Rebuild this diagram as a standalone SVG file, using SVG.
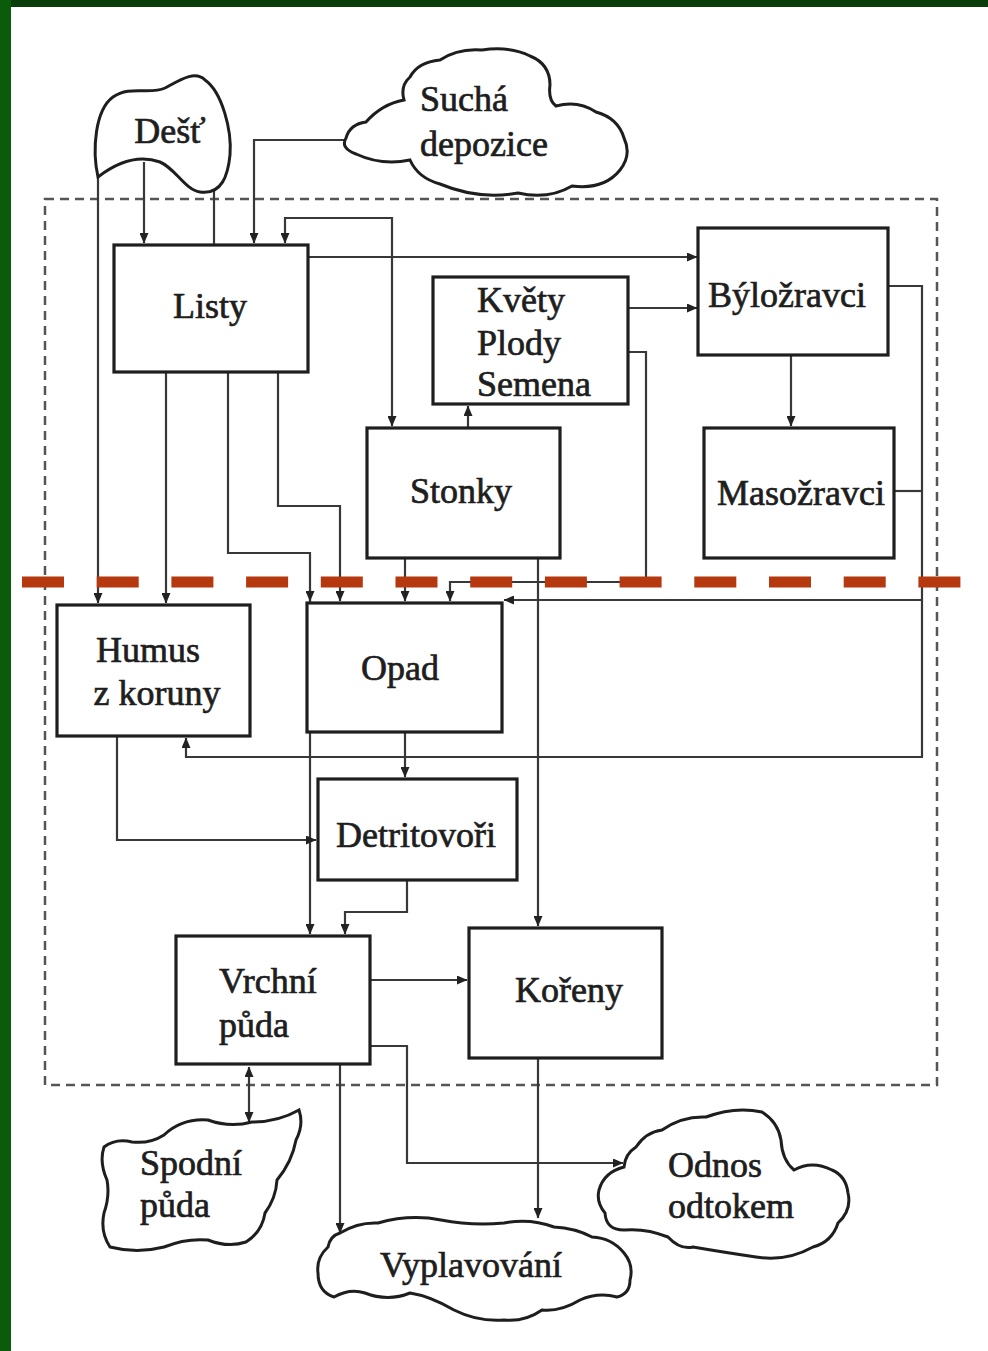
<svg xmlns="http://www.w3.org/2000/svg" width="988" height="1351" viewBox="0 0 988 1351">
<style>
.box{fill:#fff;stroke:#1e1e1e;stroke-width:3.2}
.cloud{fill:#fff;stroke:#1e1e1e;stroke-width:3}
.t{font-family:"Liberation Serif","Times New Roman",serif;font-size:36px;fill:#1e1e1e;stroke:#1e1e1e;stroke-width:0.7}
.c{text-anchor:middle}
.ln{fill:none;stroke:#383838;stroke-width:2.2}
.ln2{fill:none;stroke:#383838;stroke-width:2.2;marker-end:url(#arr)}
</style>
<defs>
<marker id="arr" markerUnits="userSpaceOnUse" markerWidth="11" markerHeight="9" refX="10" refY="4.5" orient="auto-start-reverse" viewBox="0 0 11 9">
<path d="M0,0 L10.5,4.5 L0,9 z" fill="#222"/>
</marker>
</defs>
<rect x="0" y="0" width="988" height="1351" fill="#fff"/>
<rect x="0" y="0" width="988" height="7" fill="#0b3d0b"/>
<rect x="0" y="0" width="11" height="1351" fill="#0a5c0a"/>
<rect id="boundary" x="45" y="199" width="892" height="886" fill="none" stroke="#555" stroke-width="2.5" stroke-dasharray="9 6"/>

<g id="connectors">
<path class="ln2" d="M98,177 V603"/>
<path class="ln2" d="M144,162 V243"/>
<path class="ln" d="M214,186 V245"/>
<path class="ln2" d="M345,140 H254 V243"/>
<path class="ln2" d="M285,243 V218 H392 V426" marker-start="url(#arr)"/>
<path class="ln2" d="M309,257 H697"/>
<path class="ln2" d="M629,308 H697"/>
<path class="ln2" d="M629,352 H646 V582 H450 V601"/>
<path class="ln2" d="M468,428 V406"/>
<path class="ln2" d="M791,355 V426"/>
<path class="ln2" d="M166,373 V603"/>
<path class="ln2" d="M228,373 V553 H310 V934"/>
<path class="ln2" d="M310,590 V601"/>
<path class="ln2" d="M278,373 V506 H340 V601"/>
<path class="ln2" d="M405,559 V601"/>
<path class="ln2" d="M538,559 V926"/>
<path class="ln2" d="M889,286 H922 V757 H186 V738"/>
<path class="ln" d="M894,491 H922"/>
<path class="ln2" d="M922,600 H504"/>
<path class="ln2" d="M117,736 V840 H316"/>
<path class="ln2" d="M405,732 V777"/>
<path class="ln2" d="M407,880 V912 H345 V934"/>
<path class="ln2" d="M370,980 H467"/>
<path class="ln2" d="M249,1122 V1067" marker-start="url(#arr)"/>
<path class="ln2" d="M340,1065 V1233"/>
<path class="ln2" d="M370,1046 H407 V1163 H623"/>
<path class="ln2" d="M538,1058 V1218"/>
</g>

<line id="ground-line" x1="22" y1="582" x2="966" y2="582" stroke="#b5380f" stroke-width="11" stroke-dasharray="42 32.7"/>

<g id="dest">
<path class="cloud" d="M98,177 C92,150 95,110 113,97 C130,85 150,95 165,88 C180,80 195,70 205,80 C222,92 232,130 230,155 C228,175 222,195 200,192 C185,190 175,168 160,162 C140,155 120,160 98,177 Z"/>
<text class="t c" x="170" y="143">Dešť</text>
</g>
<g id="sucha-depozice">
<path class="cloud" d="M410,77 Q418,62 440,60 Q458,48 482,50 Q510,46 530,56 Q550,64 550,85 Q548,100 556,106 Q578,100 596,112 Q618,118 624,138 Q632,155 620,170 Q604,190 572,186 Q548,200 518,193 Q478,200 440,184 Q418,178 410,160 Q382,166 356,154 Q340,148 346,138 Q350,124 366,122 Q382,104 404,100 Q400,86 410,77 Z"/>
<text class="t" x="420" y="111">Suchá</text>
<text class="t" x="420" y="156">depozice</text>
</g>
<g id="listy">
<rect class="box" x="114" y="245" width="194" height="127"/>
<text class="t c" x="210" y="318">Listy</text>
</g>
<g id="kvety">
<rect class="box" x="433" y="277" width="195" height="127"/>
<text class="t" x="477" y="312">Květy</text>
<text class="t" x="477" y="355">Plody</text>
<text class="t" x="477" y="396">Semena</text>
</g>
<g id="bylozravci">
<rect class="box" x="698" y="228" width="190" height="127"/>
<text class="t c" x="787" y="307">Býložravci</text>
</g>
<g id="stonky">
<rect class="box" x="367" y="428" width="193" height="130"/>
<text class="t c" x="461" y="503">Stonky</text>
</g>
<g id="masozravci">
<rect class="box" x="704" y="428" width="190" height="130"/>
<text class="t c" x="801" y="505">Masožravci</text>
</g>
<g id="humus">
<rect class="box" x="57" y="605" width="193" height="131"/>
<text class="t c" x="148" y="662">Humus</text>
<text class="t c" x="157" y="705">z koruny</text>
</g>
<g id="opad">
<rect class="box" x="307" y="603" width="195" height="129"/>
<text class="t c" x="400" y="680">Opad</text>
</g>
<g id="detritovori">
<rect class="box" x="318" y="779" width="199" height="101"/>
<text class="t c" x="416" y="847">Detritovoři</text>
</g>
<g id="vrchni-puda">
<rect class="box" x="176" y="936" width="194" height="128"/>
<text class="t" x="219" y="993">Vrchní</text>
<text class="t" x="219" y="1037">půda</text>
</g>
<g id="koreny">
<rect class="box" x="469" y="928" width="193" height="130"/>
<text class="t c" x="569" y="1002">Kořeny</text>
</g>
<g id="spodni-puda">
<path class="cloud" d="M299,1110 Q304,1125 296,1140 Q292,1162 277,1180 Q276,1198 265,1213 Q262,1232 246,1242 Q228,1248 208,1240 Q186,1238 164,1247 Q137,1254 110,1247 Q100,1232 104,1213 Q110,1196 107,1180 Q99,1162 104,1147 Q116,1138 132,1142 Q150,1144 164,1135 Q182,1118 208,1120 Q230,1128 252,1122 Q278,1122 299,1110 Z"/>
<text class="t" x="140" y="1175">Spodní</text>
<text class="t" x="140" y="1217">půda</text>
</g>
<g id="vyplavovani">
<path class="cloud" d="M328,1247 Q330,1236 340,1233 Q358,1222 378,1223 Q410,1214 441,1220 Q472,1226 504,1223 Q530,1218 554,1227 Q575,1228 592,1237 Q612,1238 624,1253 Q634,1265 630,1280 Q630,1294 617,1297 Q598,1292 580,1300 Q560,1312 542,1310 Q525,1322 504,1320 Q478,1322 454,1310 Q430,1296 410,1293 Q388,1302 365,1293 Q350,1288 334,1297 Q318,1292 318,1273 Q316,1258 328,1247 Z"/>
<text class="t c" x="471" y="1277">Vyplavování</text>
</g>
<g id="odnos-odtokem">
<path class="cloud" d="M624,1167 Q625,1154 636,1147 Q646,1132 662,1130 Q682,1116 706,1117 Q735,1106 762,1112 Q778,1122 781,1140 Q782,1160 794,1170 Q812,1160 832,1170 Q846,1176 848,1193 Q852,1210 838,1223 Q832,1242 813,1247 Q786,1262 756,1257 Q722,1252 693,1247 Q680,1250 668,1237 Q646,1228 624,1230 Q606,1230 605,1213 Q596,1202 599,1190 Q604,1172 624,1167 Z"/>
<text class="t" x="668" y="1177">Odnos</text>
<text class="t" x="668" y="1218">odtokem</text>
</g>
</svg>
